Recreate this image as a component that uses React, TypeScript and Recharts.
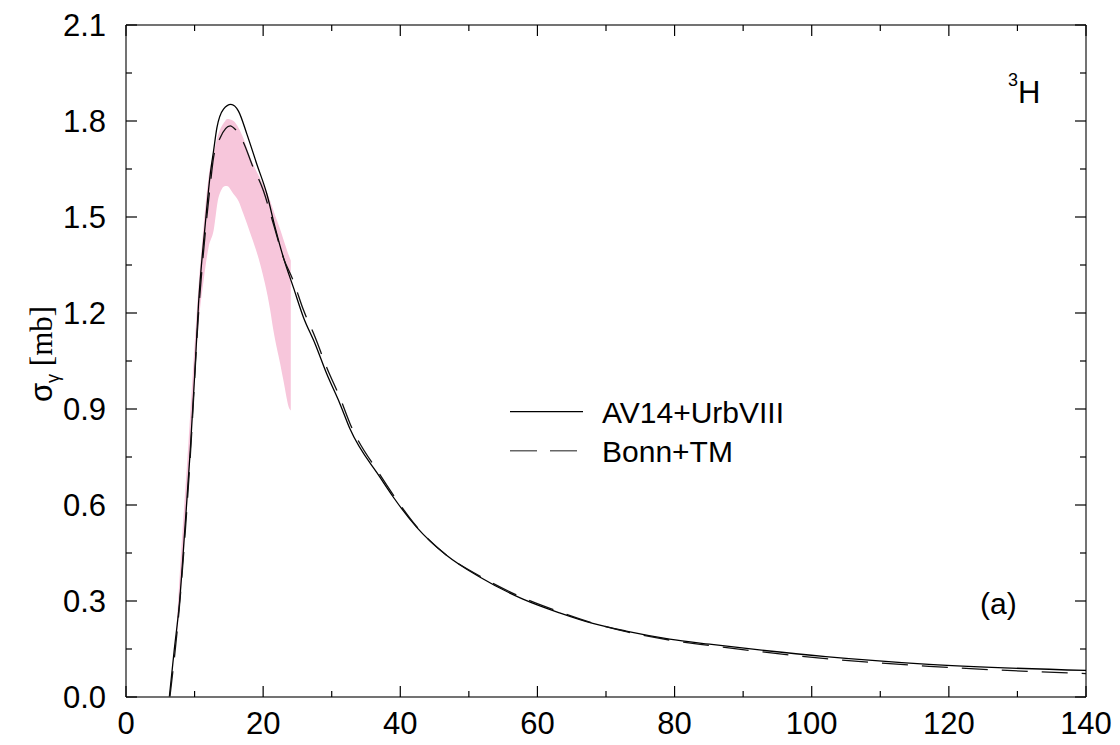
import React from "react"
import { ComposedChart, Line, Area, XAxis, YAxis, ReferenceLine } from "recharts"

const av14UrbVIII: number[][] = [
  [6.32, 0], [7.0, 0.14], [7.82, 0.3], [8.6, 0.53], [9.37, 0.77], [10.0, 1.0], [10.58, 1.23],
  [11.56, 1.478], [12.29, 1.634], [12.77, 1.707], [13.26, 1.779], [14.22, 1.837], [15.3, 1.852],
  [16.4, 1.831], [17.63, 1.759], [19.08, 1.665], [20.54, 1.572], [21.75, 1.467], [23.0, 1.37],
  [24.41, 1.28], [25.87, 1.187], [27.57, 1.104], [29.27, 1.01], [31.21, 0.916], [32.66, 0.838],
  [37.03, 0.687], [38.97, 0.625], [42.37, 0.531], [46.74, 0.443], [51.58, 0.375], [57.89, 0.306],
  [63.23, 0.263], [68.08, 0.23], [72.94, 0.206], [79.27, 0.181], [85.09, 0.165], [92.37, 0.147],
  [102.05, 0.126], [117.1, 0.102], [140, 0.083],
]

const bonnTM: number[][] = [
  [6.4, 0], [7.82, 0.29], [9.37, 0.75], [10.58, 1.2], [11.56, 1.45], [12.29, 1.6], [12.77, 1.686],
  [13.74, 1.748], [15.2, 1.785], [15.93, 1.774], [17.13, 1.733], [18.36, 1.665], [20.04, 1.582],
  [21.5, 1.478], [23.0, 1.37], [24.41, 1.3], [25.87, 1.21], [27.57, 1.125], [29.27, 1.03],
  [31.21, 0.935], [32.66, 0.855], [37.03, 0.695], [38.97, 0.632], [42.37, 0.533], [46.74, 0.443],
  [51.58, 0.378], [57.89, 0.31], [63.23, 0.266], [68.08, 0.231], [72.94, 0.204], [79.27, 0.178],
  [85.09, 0.161], [92.37, 0.142], [102.05, 0.12], [117.1, 0.096], [140, 0.073],
]

// shaded band: [E, low, high]
const band: number[][] = [
  [7.4, 0.19, 0.23], [8.0, 0.33, 0.44], [9.0, 0.63, 0.76], [10.0, 0.98, 1.1], [10.6, 1.17, 1.29],
  [11.31, 1.3, 1.47], [12.04, 1.405, 1.625], [12.77, 1.457, 1.7],
  [13.49, 1.561, 1.76], [14.47, 1.597, 1.8], [14.72, 1.597, 1.806], [15.68, 1.572, 1.8],
  [16.4, 1.55, 1.779], [17.13, 1.509, 1.745], [18.11, 1.45, 1.686], [19.56, 1.353, 1.62],
  [21.02, 1.21, 1.551], [21.5, 1.145, 1.52], [22.5, 1.04, 1.46], [22.96, 0.989, 1.43],
  [23.83, 0.901, 1.375], [24.03, 0.895, 1.364],
]

const xTicks = [0, 10, 20, 30, 40, 50, 60, 70, 80, 90, 100, 110, 120, 130, 140]
const yTicks = [0, 0.15, 0.3, 0.45, 0.6, 0.75, 0.9, 1.05, 1.2, 1.35, 1.5, 1.65, 1.8, 1.95, 2.1]

const W = 1120
const H = 745
const PL = 126
const PR = 1086
const PT = 25
const PB = 697
const FONT = "'Liberation Sans', Arial, sans-serif"

// merge series into one table keyed by x
const rows = (() => {
  const map = new Map<number, any>()
  const get = (x: number) => {
    if (!map.has(x)) map.set(x, { x })
    return map.get(x)
  }
  av14UrbVIII.forEach(([x, y]) => (get(x).av14 = y))
  bonnTM.forEach(([x, y]) => (get(x).bonn = y))
  band.forEach(([x, lo, hi]) => (get(x).band = [lo, hi]))
  return Array.from(map.values()).sort((a, b) => a.x - b.x)
})()

const XTick = (props: any) => {
  const { x, payload } = props
  const v = payload.value
  const major = v % 20 === 0
  const len = major ? 11 : 6
  return (
    <g>
      <line x1={x} x2={x} y1={PB} y2={PB - len} stroke="#000" strokeWidth={1.2} />
      <line x1={x} x2={x} y1={PT} y2={PT + len} stroke="#000" strokeWidth={1.2} />
      {major && (
        <text x={x} y={734} textAnchor="middle" fontSize={31} fontFamily={FONT} fill="#000">
          {v}
        </text>
      )}
    </g>
  )
}

const YTick = (props: any) => {
  const { y, payload } = props
  const v = payload.value
  const major = Math.round(v * 100) % 30 === 0
  const len = major ? 11 : 6
  return (
    <g>
      <line x1={PL} x2={PL + len} y1={y} y2={y} stroke="#000" strokeWidth={1.2} />
      <line x1={PR} x2={PR - len} y1={y} y2={y} stroke="#000" strokeWidth={1.2} />
      {major && (
        <text x={106} y={y} dy="0.36em" textAnchor="end" fontSize={31} fontFamily={FONT} fill="#000">
          {v.toFixed(1)}
        </text>
      )}
    </g>
  )
}

const yLabel = () => (
  <text
    x={52}
    y={354}
    transform="rotate(-90, 52, 354)"
    textAnchor="middle"
    fontSize={31}
    fill="#000"
  >
    <tspan fontFamily={FONT}>σ</tspan>
    <tspan fontFamily={FONT} fontSize={18} dy={7}>γ</tspan>
    <tspan fontFamily="'Liberation Serif', 'Times New Roman', serif" dy={-7}> [mb]</tspan>
  </text>
)

export default function App() {
  return (
    <div style={{ position: "absolute", left: 0, top: 0, width: W, height: H, background: "#fff" }}>
      <ComposedChart width={W} height={H} data={rows} margin={{ top: PT, right: W - PR, bottom: 0, left: 0 }}>
        <XAxis
          dataKey="x"
          type="number"
          domain={[0, 140]}
          ticks={xTicks}
          interval={0}
          height={H - PB}
          tickLine={false}
          axisLine={{ stroke: "#444", strokeWidth: 1.5 }}
          tick={<XTick />}
          allowDataOverflow
        />
        <YAxis
          type="number"
          domain={[0, 2.1]}
          ticks={yTicks}
          interval={0}
          width={PL}
          tickLine={false}
          axisLine={{ stroke: "#444", strokeWidth: 1.5 }}
          tick={<YTick />}
          label={{ content: yLabel }}
          allowDataOverflow
        />
        <ReferenceLine y={2.1} stroke="#444" strokeWidth={1.5} />
        <ReferenceLine x={140} stroke="#444" strokeWidth={1.5} />
        <Area
          dataKey="band"
          type="monotone"
          stroke="none"
          fill="#f7c6db"
          fillOpacity={1}
          connectNulls
          isAnimationActive={false}
        />
        <Line
          dataKey="av14"
          name="AV14+UrbVIII"
          type="monotone"
          stroke="#000"
          strokeWidth={1.3}
          dot={false}
          connectNulls
          isAnimationActive={false}
        />
        <Line
          dataKey="bonn"
          name="Bonn+TM"
          type="monotone"
          stroke="#111"
          strokeWidth={1.3}
          strokeDasharray="26 14"
          dot={false}
          connectNulls
          isAnimationActive={false}
        />
        {/* legend */}
        <line x1={510} x2={583} y1={411.7} y2={411.7} stroke="#000" strokeWidth={1.3} />
        <text x={602} y={423} fontSize={30} fontFamily={FONT} fill="#000">AV14+UrbVIII</text>
        <line x1={510} x2={577} y1={450.7} y2={450.7} stroke="#666" strokeWidth={1.5} strokeDasharray="27 13" />
        <text x={602} y={462} fontSize={30} fontFamily={FONT} fill="#000">Bonn+TM</text>
        <text x={1008} y={86} fontSize={18} fontFamily={FONT} fill="#000">3</text>
        <text x={1018} y={103} fontSize={31} fontFamily={FONT} fill="#000">H</text>
        <text x={980} y={614} fontSize={30} fontFamily={FONT} fill="#000">(a)</text>
      </ComposedChart>
    </div>
  )
}
